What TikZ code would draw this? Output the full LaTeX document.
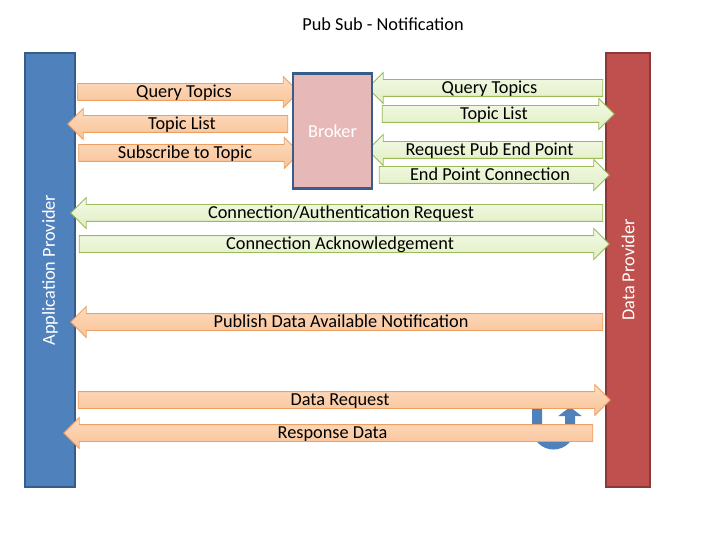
\documentclass[tikz,border=0pt]{standalone}
\usepackage{fontspec}
\setmainfont{Carlito}
\usetikzlibrary{arrows.meta,shapes.arrows}

\definecolor{appblue}{HTML}{4F81BD}
\definecolor{appline}{HTML}{385D8A}
\definecolor{datared}{HTML}{C0504D}
\definecolor{dataline}{HTML}{8C3836}
\definecolor{brokerpink}{HTML}{E6B9B8}
\definecolor{orangetop}{HTML}{FDDCC0}
\definecolor{orangebot}{HTML}{F9C295}
\definecolor{orangeline}{HTML}{EDA063}
\definecolor{greentop}{HTML}{F3F9E6}
\definecolor{greenbot}{HTML}{E1EFC4}
\definecolor{greenline}{HTML}{9BBB59}

\newcommand{\flowfont}{\fontsize{18.3}{20}\selectfont}

\tikzset{
  flow/.style={single arrow, single arrow head extend=7pt,
    single arrow tip angle=90, inner xsep=2pt, inner ysep=0pt,
    text height=13.5pt, text depth=2.5pt, line width=0.8pt, font=\flowfont},
  orangeflow/.style={flow, draw=orangeline, top color=orangetop, bottom color=orangebot},
  greenflow/.style={flow, draw=greenline, top color=greentop, bottom color=greenbot},
  toleft/.style={shape border rotate=180},
  sidebar/.style={rotate=90, inner sep=0pt, line width=2pt, text=white, font=\flowfont},
}

\begin{document}
\begin{tikzpicture}[x=1pt,y=-1pt]

    % --- Page frame ---
    \useasboundingbox (0,0) rectangle (720,540);
    \fill[white] (0,0) rectangle (720,540);

    % --- Title ---
    \node[font=\flowfont] (title) at (383,24) {Pub Sub - Notification};

    % --- Providers ---
    \node[sidebar, draw=appline, fill=appblue, minimum width=434pt, minimum height=50pt]
        (app) at (50,270) {Application Provider};
    \node[sidebar, draw=dataline, fill=datared, minimum width=434pt, minimum height=44pt]
        (data) at (628,270) {Data Provider};

    % --- Local loop at the data provider (behind the data arrows) ---
    \coordinate (loopIn) at (537,403);
    \coordinate (loopOut) at (570,407);
    \draw[line width=10pt, appblue, -{Triangle[length=9pt,width=23pt]}]
        (loopIn) -- (537,428) arc[start angle=180, end angle=0, radius=16.5] -- (loopOut);

    % --- Subscriber <-> broker ---
    \node[orangeflow, minimum height=221pt] (qtA) at (184,92) {Query Topics};
    \node[orangeflow, toleft, minimum height=220pt] (tlA) at (182,124) {Topic List};
    \node[orangeflow, minimum height=221pt] (subA) at (185,153) {Subscribe to Topic};

    % --- Broker <-> publisher ---
    \node[greenflow, toleft, minimum height=235pt] (qtB) at (489.5,88) {Query Topics};
    \node[greenflow, minimum height=232pt] (tlB) at (494,114) {Topic List};
    \node[greenflow, toleft, minimum height=235pt] (reqB) at (489.5,150) {Request Pub End Point};
    \node[greenflow, minimum height=230pt] (epB) at (490,175) {End Point Connection};

    % --- Direct connection ---
    \node[greenflow, toleft, minimum height=532pt] (authC) at (341,213) {Connection/Authentication Request};
    \node[greenflow, minimum height=530pt] (ackC) at (340,244) {Connection Acknowledgement};

    % --- Notification and data ---
    \node[orangeflow, toleft, minimum height=532pt] (pubC) at (341,322) {Publish Data Available Notification};
    \node[orangeflow, minimum height=532pt] (drC) at (340,400) {Data Request};
    \node[orangeflow, toleft, minimum height=529pt] (rdC) at (332.5,433) {Response Data};

    % --- Broker ---
    \node[draw=appline, line width=2.5pt, fill=brokerpink, minimum width=79pt,
        minimum height=115pt, text=white, font=\flowfont] (broker) at (332.5,131) {Broker};

\end{tikzpicture}
\end{document}
